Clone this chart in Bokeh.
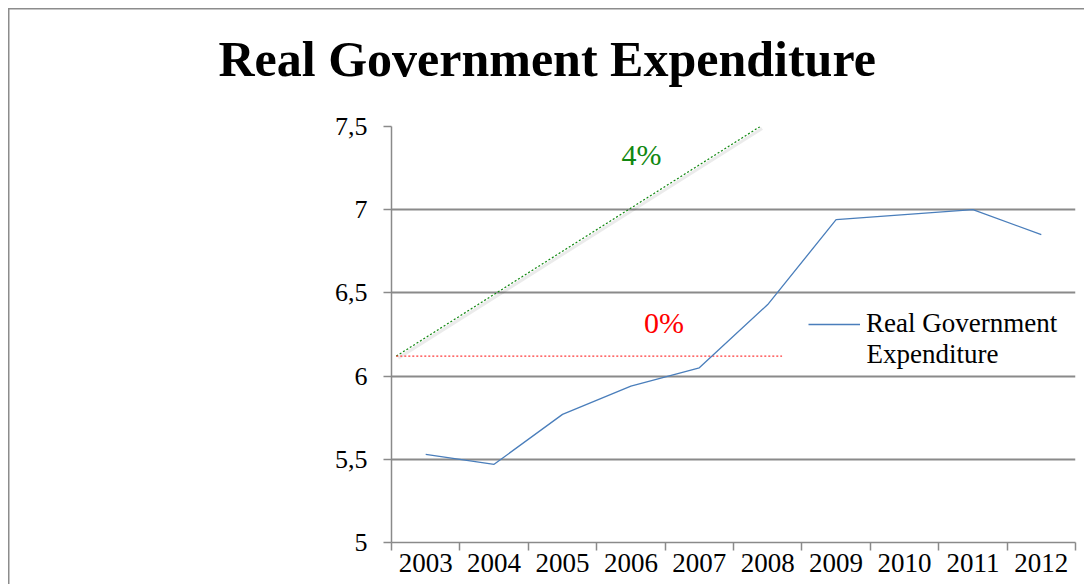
from bokeh.plotting import figure
from bokeh.models import (Range1d, FixedTicker, Legend, LegendItem, Label, Title)
from bokeh.embed import file_html
from bokeh.resources import INLINE

# ---- data ----
years = ["2003", "2004", "2005", "2006", "2007", "2008", "2009", "2010", "2011", "2012"]
expenditure = [5.53, 5.47, 5.77, 5.94, 6.05, 6.43, 6.94, 6.97, 7.00, 6.85]
y_ticks = [5.0, 5.5, 6.0, 6.5, 7.0, 7.5]
y_tick_labels = ["5", "5,5", "6", "6,5", "7", "7,5"]
# reference growth guides (x in category index units)
growth4_x = [-0.43, 4.89]
growth4_y = [6.12, 7.50]
growth0_x = [-0.43, 5.21]
growth0_y = [6.12, 6.12]

SERIF = "Liberation Serif"
GRID = "#8a8a8a"

x_idx = list(range(len(years)))
X0, X1, Y0, Y1 = -0.5, len(years) - 0.5, 5.0, 7.5

p = figure(width=1084, height=584, output_backend="svg", toolbar_location=None,
           x_range=Range1d(X0, X1), y_range=Range1d(Y0, Y1),
           min_border_left=391, min_border_right=9, min_border_top=126, min_border_bottom=42)
p.outline_line_color = None
p.background_fill_color = "white"
p.border_fill_color = None
# Excel chart-area border (left and top edges visible)
p.styles = {
    "background": ("linear-gradient(#8c8c8c, #8c8c8c) 8px 8px / 1.5px 100% no-repeat, "
                   "linear-gradient(#8c8c8c, #8c8c8c) 8px 8px / 100% 1.5px no-repeat, white"),
}

# title: an empty spacer panel next to the frame, the real title above it
p.add_layout(Title(text=" ", text_font=SERIF, text_font_size="10px", standoff=27), "above")
p.add_layout(Title(text="Real Government Expenditure", text_font=SERIF, text_font_size="50px",
                   text_font_style="bold", text_color="black", align="left", offset=-173,
                   standoff=0), "above")

# y axis
p.yaxis.ticker = FixedTicker(ticks=y_ticks)
p.yaxis.major_label_overrides = dict(zip(y_ticks, y_tick_labels))
p.yaxis.major_label_text_font = SERIF
p.yaxis.major_label_text_font_size = "26px"
p.yaxis.major_label_text_color = "black"
p.yaxis.major_label_standoff = 16
p.yaxis.axis_line_color = GRID
p.yaxis.axis_line_width = 1.5
p.yaxis.major_tick_line_color = GRID
p.yaxis.major_tick_line_width = 1.5
p.yaxis.major_tick_out = 8
p.yaxis.major_tick_in = 0
p.yaxis.minor_tick_line_color = None

# x axis: labels at category centres, tick marks at category boundaries
p.xaxis.ticker = FixedTicker(ticks=x_idx, minor_ticks=[i - 0.5 for i in range(len(years) + 1)])
p.xaxis.major_label_overrides = dict(zip(x_idx, years))
p.xaxis.major_label_text_font = SERIF
p.xaxis.major_label_text_font_size = "27px"
p.xaxis.major_label_text_color = "black"
p.xaxis.major_label_standoff = 3
p.xaxis.axis_line_color = GRID
p.xaxis.axis_line_width = 1.5
p.xaxis.major_tick_line_color = None
p.xaxis.major_tick_out = 0
p.xaxis.major_tick_in = 0
p.xaxis.minor_tick_line_color = GRID
p.xaxis.minor_tick_line_width = 1.5
p.xaxis.minor_tick_out = 8
p.xaxis.minor_tick_in = 0

p.xgrid.grid_line_color = None
p.ygrid.ticker = FixedTicker(ticks=y_ticks)
p.ygrid.grid_line_color = GRID
p.ygrid.grid_line_width = 1.8

# soft drop shadow of the 4% guide (same data, ranges nudged ~2px right/down)
dx = (X1 - X0) / 684 * 2
dy = (Y1 - Y0) / 416 * 2
p.extra_x_ranges = {"shadow_x": Range1d(X0 - dx, X1 - dx)}
p.extra_y_ranges = {"shadow_y": Range1d(Y0 + dy, Y1 + dy)}
p.line(growth4_x, growth4_y, line_color="#000000", line_alpha=0.08, line_width=3,
       x_range_name="shadow_x", y_range_name="shadow_y")

# guide lines
p.line(growth4_x, growth4_y, line_color="#118811", line_width=1.2, line_dash="2 2")
p.line(growth0_x, growth0_y, line_color="#ff3b3b", line_width=1.2, line_dash="2 2")

# series
r = p.line(x_idx, expenditure, line_color="#4a7ebb", line_width=1.3)

legend = Legend(items=[LegendItem(label="Real Government", renderers=[r])],
                location=(417, 203), padding=0, margin=0, spacing=0,
                border_line_color=None, background_fill_alpha=0,
                glyph_width=52, label_standoff=6,
                label_text_font=SERIF, label_text_font_size="27px", label_text_color="black")
p.add_layout(legend)
p.add_layout(Label(x=6.444, y=6.132, text="Expenditure", text_font=SERIF,
                   text_font_size="27px", text_color="black", text_baseline="alphabetic"))

# annotations
p.add_layout(Label(x=3.155, y=7.333, text="4%", text_font=SERIF, text_font_size="30px",
                   text_color="#118811", text_align="center", text_baseline="alphabetic"))
p.add_layout(Label(x=3.484, y=6.324, text="0%", text_font=SERIF, text_font_size="30px",
                   text_color="#ff0000", text_align="center", text_baseline="alphabetic"))

open("out.html", "w").write(file_html(p, INLINE))
